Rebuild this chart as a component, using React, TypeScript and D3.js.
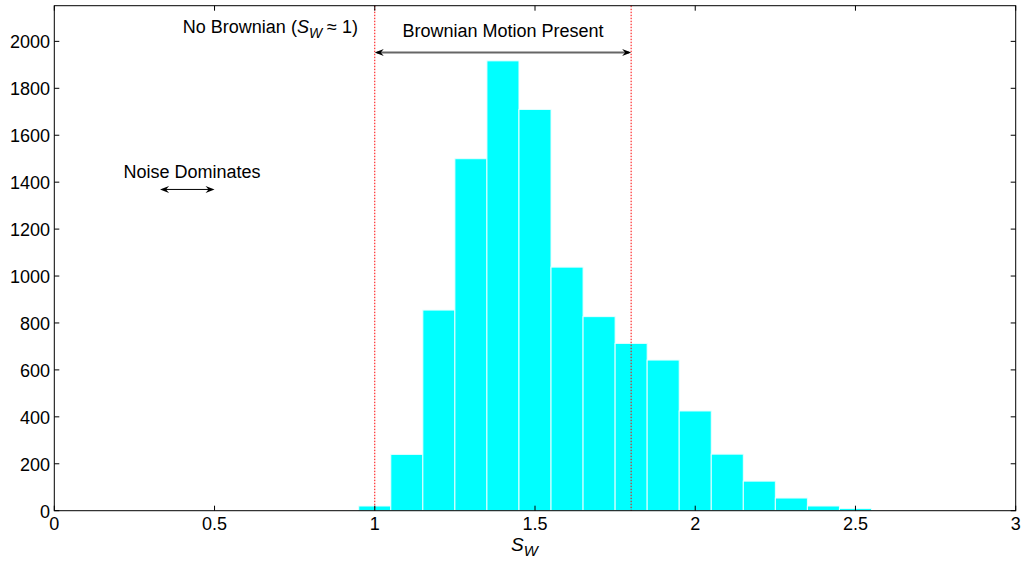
import React from "react";
import * as d3 from "d3";

const binCenters = [1.0, 1.1, 1.2, 1.3, 1.4, 1.5, 1.6, 1.7, 1.8, 1.9, 2.0, 2.1, 2.2, 2.3, 2.4, 2.5];
const counts = [20, 240, 855, 1500, 1917, 1710, 1038, 827, 713, 642, 425, 241, 126, 54, 20, 9];
const xTicks = [0, 0.5, 1, 1.5, 2, 2.5, 3];
const yTicks = [0, 200, 400, 600, 800, 1000, 1200, 1400, 1600, 1800, 2000];
const binWidth = 0.1;
const regionLines = [1, 1.8];

export default function App() {
  const W = 1024, H = 563;
  const left = 54.3, right = 1015.7, top = 5.7, bottom = 510.7;
  const x = d3.scaleLinear().domain([0, 3]).range([left, right]);
  const y = d3.scaleLinear().domain([0, 2152]).range([bottom, top]);
  const font = "'Liberation Sans', Arial, Helvetica, sans-serif";
  const fs = 18;
  const tickLen = 5;
  const fmt = (v: number) => String(v);

  const arrow = (x1: number, x2: number, yy: number, color: string, sw: number) => {
    const a = x(x1), b = x(x2), py = y(yy);
    return (
      <g>
        <line x1={a + 2} x2={b - 2} y1={py} y2={py} stroke={color} strokeWidth={sw} />
        <path d={`M${a + 9},${py - 3.5} L${a},${py} L${a + 9},${py + 3.5} L${a + 6},${py} Z`} fill="#000" />
        <path d={`M${b - 9},${py - 3.5} L${b},${py} L${b - 9},${py + 3.5} L${b - 6},${py} Z`} fill="#000" />
      </g>
    );
  };

  return (
    <svg width={W} height={H} style={{ position: "absolute", left: 0, top: 0, background: "#fff" }} fontFamily={font}>
      <rect x={0} y={0} width={W} height={H} fill="#fff" />
      {binCenters.map((c, i) => (
        <rect
          key={i}
          x={x(c - binWidth / 2)}
          width={x(c + binWidth / 2) - x(c - binWidth / 2)}
          y={y(counts[i])}
          height={bottom - y(counts[i])}
          fill="#00ffff"
          stroke="#e8ffff"
          strokeWidth={1}
        />
      ))}
      {regionLines.map((v, i) => (
        <line key={i} x1={x(v)} x2={x(v)} y1={top} y2={bottom} stroke="#ff0000" strokeWidth={1} strokeDasharray="1.5,1.5" />
      ))}
      {/* axes box */}
      <rect x={left} y={top} width={right - left} height={bottom - top} fill="none" stroke="#000" strokeWidth={1} />
      {xTicks.map((t, i) => (
        <g key={i}>
          <line x1={x(t)} x2={x(t)} y1={bottom} y2={bottom - tickLen} stroke="#000" />
          <line x1={x(t)} x2={x(t)} y1={top} y2={top + tickLen} stroke="#000" />
          <text x={x(t)} y={530} fontSize={fs} textAnchor="middle">{fmt(t)}</text>
        </g>
      ))}
      {yTicks.map((t, i) => (
        <g key={i}>
          <line x1={left} x2={left + tickLen} y1={y(t)} y2={y(t)} stroke="#000" />
          <line x1={right} x2={right - tickLen} y1={y(t)} y2={y(t)} stroke="#000" />
          <text x={50} y={y(t) + 7} fontSize={fs} textAnchor="end">{fmt(t)}</text>
        </g>
      ))}
      {/* x axis label */}
      <text x={x(1.425)} y={551} fontSize={fs + 1} fontStyle="italic">
        S<tspan fontSize={fs - 3} dy={5}>W</tspan>
      </text>
      {/* annotations */}
      <text x={358} y={y(2034)} fontSize={fs} textAnchor="end">
        No Brownian (<tspan fontStyle="italic">S</tspan>
        <tspan fontStyle="italic" fontSize={fs - 4} dy={5}>W</tspan>
        <tspan dy={-5}> ≈ 1)</tspan>
      </text>
      <text x={x(1.4)} y={y(2020)} fontSize={fs} textAnchor="middle">Brownian Motion Present</text>
      {arrow(1, 1.8, 1953, "#666", 2)}
      <text x={x(0.43)} y={y(1419)} fontSize={fs} textAnchor="middle">Noise Dominates</text>
      {arrow(0.33, 0.5, 1369, "#000", 1)}
    </svg>
  );
}
